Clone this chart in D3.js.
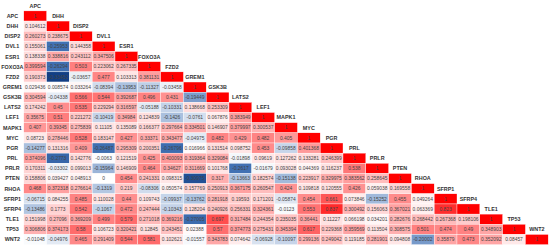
<!DOCTYPE html>
<html><head><meta charset="utf-8">
<script src="https://cdn.jsdelivr.net/npm/d3@7"></script>
<style>html,body{margin:0;padding:0;background:#fff}svg{display:block}text{font-family:"Liberation Sans",Arial,sans-serif}</style>
</head><body><svg id="c" width="550" height="248"></svg>
<script>
const genes=["APC","DHH","DISP2","DVL1","ESR1","FOXO3A","FZD2","GREM1","GSK3B","LATS2","LEF1","MAPK1","MYC","PGR","PRL","PRLR","PTEN","RHOA","SFRP1","SFRP4","TLE1","TP53","WNT2"];
const rowAPC=[1];
const rowDHH=[0.104612,1];
const rowDISP2=[0.260273,0.238675,1];
const rowDVL1=[0.155061,-0.25953,0.144358,1];
const rowESR1=[0.138338,0.338816,0.243112,0.347506,1];
const rowFOXO3A=[0.399594,-0.26294,0.503,0.223062,0.267335,1];
const rowFZD2=[0.190373,-0.33452,-0.03657,0.477,0.103313,0.381131,1];
const rowGREM1=[0.029436,0.008574,0.033264,-0.08394,-0.13953,-0.11327,-0.03458,1];
const rowGSK3B=[0.304594,-0.04338,0.566,0.544,0.392687,0.496,0.431,-0.19449,1];
const rowLATS2=[0.174242,0.45,0.535,0.229294,0.316597,-0.05188,-0.10331,0.138668,0.253309,1];
const rowLEF1=[0.35675,0.51,0.221272,-0.10419,0.34984,0.124839,-0.1426,-0.0761,0.067876,0.383949,1];
const rowMAPK1=[0.407,0.39345,0.275839,0.11105,0.135089,0.166377,0.297664,0.334501,0.146907,0.379997,0.300537,1];
const rowMYC=[0.08723,0.278446,0.528,0.183147,0.427,0.33371,0.343477,-0.04975,0.482,0.429,0.482,0.405,1];
const rowPGR=[-0.14277,0.131316,0.409,-0.26487,0.295309,0.200351,-0.26796,0.016966,0.131514,0.098752,0.453,-0.09858,0.401368,1];
const rowPRL=[0.374096,-0.2773,0.142776,-0.0063,0.121519,0.425,0.400093,0.319364,0.329084,-0.01898,0.09619,0.127262,0.133281,0.246399,1];
const rowPRLR=[0.170311,-0.03302,0.099013,-0.15964,0.146909,0.464,0.34627,0.311669,0.101768,-0.2617,-0.01679,0.093028,0.044369,0.116237,0.538,1];
const rowPTEN=[0.158806,0.039427,0.048913,0,0.454,0.241331,0.098315,-0.30975,0.317,-0.13663,0.182574,-0.15138,0.223917,0.329975,0.383562,0.258645,1];
const rowRHOA=[0.468,0.372318,0.276614,-0.1319,0.219,-0.08306,0.050574,0.157769,0.250913,0.367175,0.260547,0.424,0.109818,0.120555,0.426,0.059038,0.169558,1];
const rowSFRP1=[-0.06715,0.084255,0.485,0.110028,0.44,0.109743,-0.09937,-0.13762,0.281918,0.19593,0.171201,-0.05874,0.454,0.661,0.073846,-0.15252,0.455,0.049264,1];
const rowSFRP4=[-0.13486,0.1773,0.542,-0.1067,0.472,0.247444,-0.10343,0.128204,0.240926,0.256331,0.324361,-0.0123,0.553,0.837,0.300492,0.156063,0.367021,0.063369,0.823,1];
const rowTLE1=[0.151998,0.27096,0.369209,0.499,0.579,0.271018,0.369216,-0.27005,0.697,0.317484,0.244354,0.235035,0.36441,0.11227,0.066198,0.034201,0.282676,0.268442,0.267368,0.198106,1];
const rowTP53=[0.306806,0.374173,0.58,0.106723,0.320421,0.12845,0.243451,0.02388,0.57,0.374773,0.275431,0.345394,0.617,0.229368,0.359569,0.113504,0.308575,0.501,0.474,0.49,0.348903,1];
const rowWNT2=[-0.01048,-0.04976,0.465,0.291409,0.544,0.581,0.102621,-0.01557,0.343783,0.074642,-0.06928,-0.10097,0.299136,0.249042,0.119185,0.281901,0.094808,-0.20002,0.35879,0.473,0.352092,0.08457,1];
const matrix=[rowAPC,rowDHH,rowDISP2,rowDVL1,rowESR1,rowFOXO3A,rowFZD2,rowGREM1,rowGSK3B,rowLATS2,rowLEF1,rowMAPK1,rowMYC,rowPGR,rowPRL,rowPRLR,rowPTEN,rowRHOA,rowSFRP1,rowSFRP4,rowTLE1,rowTP53,rowWNT2];

const svg=d3.select("#c");
const x=d3.scaleBand().domain(genes).range([23.8,548.2]);
const y=d3.scaleBand().domain(genes).range([10.9,244.6]);
const colour=d3.scaleLinear().domain([-0.335,-0.26,-0.13,0,1]).range(["#123f85","#4272b4","#b5c8e3","#ffffff","#ff0000"]);
const cells=matrix.flatMap((r,i)=>r.map((v,j)=>({row:genes[i],col:genes[j],v})));
const g=svg.selectAll("g.cell").data(cells).join("g").attr("class","cell");
g.append("rect").attr("x",d=>x(d.col)).attr("y",d=>y(d.row)).attr("width",x.bandwidth()).attr("height",y.bandwidth())
 .attr("fill",d=>colour(d.v)).attr("stroke","#fff").attr("stroke-width",0.35);
g.append("text").attr("x",d=>x(d.col)+x.bandwidth()/2).attr("y",d=>y(d.row)+y.bandwidth()/2).attr("dy","0.35em")
 .attr("text-anchor","middle").attr("font-size",4.9).attr("fill","#444").text(d=>String(d.v));
svg.selectAll("text.rowlab").data(genes).join("text").attr("class","rowlab")
 .attr("x",12.4).attr("y",d=>y(d)+y.bandwidth()/2).attr("dy","0.35em").attr("text-anchor","middle")
 .attr("font-size",5.4).attr("font-weight","bold").attr("fill","#333").text(d=>d);
svg.selectAll("text.collab").data(genes).join("text").attr("class","collab")
 .attr("x",d=>x(d)+x.bandwidth()/2).attr("y",d=>y(d)-y.step()/2).attr("dy","0.35em").attr("text-anchor","middle")
 .attr("font-size",5.4).attr("font-weight","bold").attr("fill","#333").text(d=>d);
</script></body></html>
